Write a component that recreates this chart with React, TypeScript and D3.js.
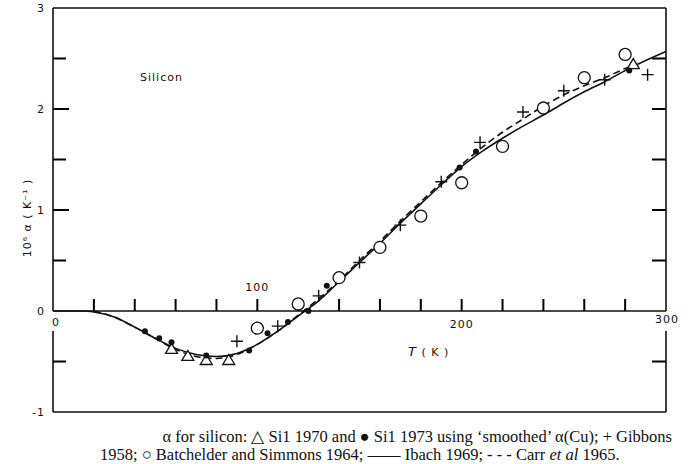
import React from "react"
import * as d3 from "d3"

// Ibach 1969 (solid) and Carr et al 1965 (dashed), alpha in 1e-6 / K
const ibachT = [0, 15, 20, 30, 40, 50, 60, 70, 80, 90, 100, 110, 120, 130, 140, 150, 160, 170, 180, 190, 200, 210, 220, 230, 240, 250, 260, 270, 280, 290, 300]
const ibachA = [0, 0, -0.01, -0.06, -0.16, -0.27, -0.37, -0.43, -0.45, -0.42, -0.33, -0.2, -0.05, 0.1, 0.29, 0.48, 0.67, 0.87, 1.06, 1.25, 1.43, 1.58, 1.71, 1.83, 1.94, 2.06, 2.17, 2.27, 2.38, 2.48, 2.57]
const carrT = [20, 30, 40, 50, 60, 70, 80, 90, 100, 110, 120, 130, 140, 150, 160, 170, 180, 190, 200, 210, 220, 230, 240, 250, 260, 270, 280, 285]
const carrA = [0, -0.06, -0.16, -0.27, -0.38, -0.45, -0.47, -0.43, -0.33, -0.2, -0.04, 0.12, 0.3, 0.5, 0.69, 0.89, 1.08, 1.27, 1.45, 1.62, 1.77, 1.9, 2.03, 2.14, 2.23, 2.31, 2.4, 2.44]

// Si1 1970 (triangles)
const triT = [58, 66, 75, 86, 284]
const triA = [-0.38, -0.45, -0.49, -0.49, 2.44]
// Si1 1973 (filled dots)
const dotT = [45, 52, 58, 75, 96, 105, 115, 125, 134, 199, 207, 282]
const dotA = [-0.2, -0.27, -0.31, -0.44, -0.39, -0.22, -0.11, 0.0, 0.25, 1.42, 1.58, 2.38]
// Gibbons 1958 (crosses)
const crossT = [90, 110, 130, 150, 170, 190, 209, 230, 250, 270, 291]
const crossA = [-0.3, -0.15, 0.15, 0.48, 0.85, 1.28, 1.67, 1.97, 2.18, 2.29, 2.34]
// Batchelder and Simmons 1964 (open circles)
const circT = [100, 120, 140, 160, 180, 200, 220, 240, 260, 280]
const circA = [-0.17, 0.07, 0.33, 0.63, 0.94, 1.27, 1.63, 2.01, 2.31, 2.54]

const xTicks = [20, 40, 60, 80, 100, 120, 140, 160, 180, 200, 220, 240, 260, 280]
const yTicks = [-0.5, 0.5, 1, 1.5, 2, 2.5]
const yLabels = ["-1", "0", "1", "2", "3"]

const W = 700
const H = 464
const INK = "#111"

export default function App() {
  const x = d3.scaleLinear().domain([0, 300]).range([53, 666])
  const y = d3.scaleLinear().domain([-1, 3]).range([412, 8])

  const solid = d3.line<number>().curve(d3.curveMonotoneX).x(d => x(d)).y((d, i) => y(ibachA[i]))(ibachT) || ""
  const dashed = d3.line<number>().curve(d3.curveMonotoneX).x(d => x(d)).y((d, i) => y(carrA[i]))(carrT) || ""

  const x0 = x(0), x1 = x(300), y0 = y(0)
  const axisFont = { fontFamily: "DejaVu Sans", fontSize: 11, letterSpacing: 1 }

  // frame with gaps at the 0 / 300 labels
  const frame = [
    `M${x0},${y(3)}H${x1}`,
    `M${x0},${y(-1)}H${x1}`,
    `M${x0},${y(3)}V${y0}`,
    `M${x0},${y0 + 20}V${y(-1)}`,
    `M${x1},${y(3)}V${y0}`,
    `M${x1},${y0 + 20}V${y(-1)}`,
    `M${x0},${y0}H${x1}`,
  ].join("")

  return (
    <svg width={W} height={H} style={{ position: "absolute", left: 0, top: 0, background: "#fff" }}>
      <path d={frame} fill="none" stroke={INK} strokeWidth={1.6} />
      {xTicks.map(t => (
        <rect key={"xt" + t} x={x(t) - 1} y={y0 - 12} width={2} height={12} fill="#000" />
      ))}
      {yTicks.map(v => (
        <rect key={"yl" + v} x={x0} y={y(v) - 1} width={Number.isInteger(v) ? 16 : 13} height={2} fill="#000" />
      ))}
      {yTicks.map(v => (
        <rect key={"yr" + v} x={x1 - 14} y={y(v) - 1} width={14} height={2} fill="#000" />
      ))}

      <g fill={INK} {...axisFont}>
        {yLabels.map(l => (
          <text key={l} x={x0 - 8} y={y(+l) + 4} textAnchor="end">{l}</text>
        ))}
        <text x={x0 + 3} y={y0 + 15} textAnchor="middle">0</text>
        <text x={x(100)} y={y0 - 20} textAnchor="middle">100</text>
        <text x={x(200)} y={y0 + 17} textAnchor="middle">200</text>
        <text x={x1 + 1} y={y0 + 12} textAnchor="middle">300</text>
        <text x={140} y={81}>Silicon</text>
        <text x={408} y={356}><tspan fontStyle="italic" fontSize={13}>T</tspan> ( K )</text>
        <text transform={`translate(31,${218}) rotate(-90)`} textAnchor="middle">10⁶ α ( K⁻¹ )</text>
      </g>

      <path d={solid} fill="none" stroke={INK} strokeWidth={1.6} />
      <path d={dashed} fill="none" stroke={INK} strokeWidth={1.6} strokeDasharray="7 4" />

      {circT.map((t, i) => (
        <circle key={"c" + t} cx={x(t)} cy={y(circA[i])} r={6} fill="#fff" stroke={INK} strokeWidth={1.3} />
      ))}
      {triT.map((t, i) => {
        const cx = x(t), cy = y(triA[i])
        return <path key={"t" + t} d={`M${cx - 6},${cy + 4} L${cx + 6},${cy + 4} L${cx},${cy - 6} Z`} fill="#fff" stroke={INK} strokeWidth={1.3} />
      })}
      {crossT.map((t, i) => {
        const cx = x(t), cy = y(crossA[i])
        return (
          <path key={"x" + t} d={`M${cx - 6},${cy} H${cx + 6} M${cx},${cy - 6} V${cy + 6}`} stroke={INK} strokeWidth={1.4} fill="none" />
        )
      })}
      {dotT.map((t, i) => (
        <circle key={"d" + t} cx={x(t)} cy={y(dotA[i])} r={3} fill={INK} />
      ))}

      <g fill={INK} fontFamily="Liberation Serif" fontSize={16.5}>
        <text x={672} y={442} textAnchor="end">α for silicon:  △ Si1 1970 and ● Si1 1973 using ‘smoothed’ α(Cu);  + Gibbons</text>
        <text x={100} y={460}>1958; ○ Batchelder and Simmons 1964; —— Ibach 1969; - - - Carr <tspan fontStyle="italic">et al</tspan> 1965.</text>
      </g>
    </svg>
  )
}
